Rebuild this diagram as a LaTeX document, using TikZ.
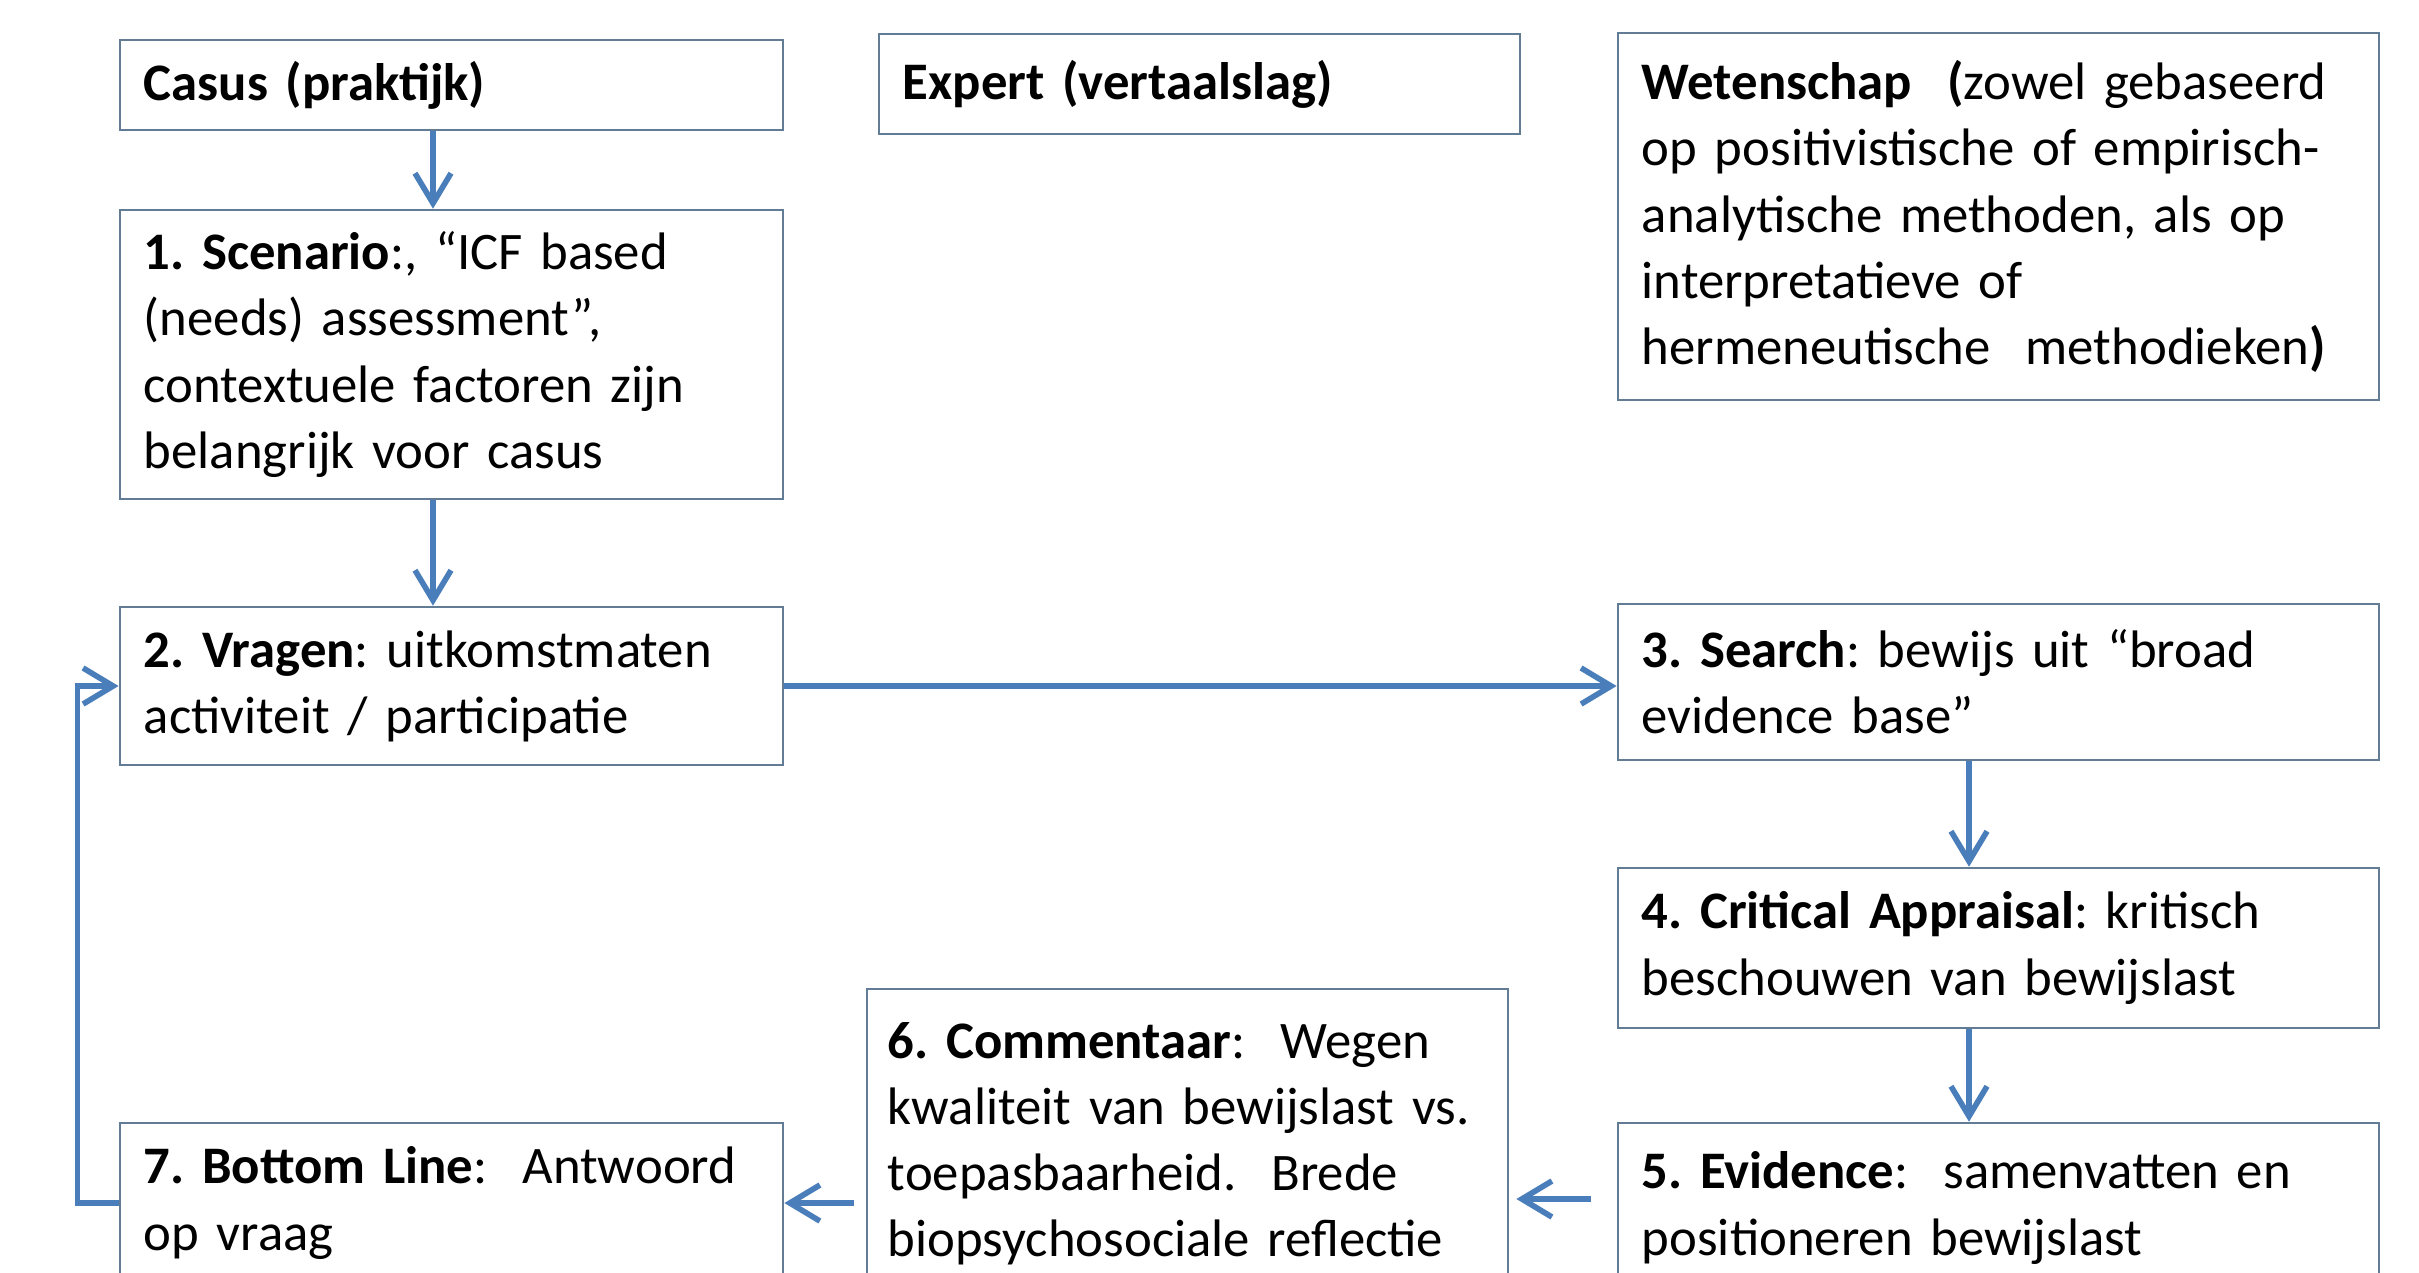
\documentclass[tikz,border=0pt]{standalone}
\usepackage{fontspec}
\setmainfont{Carlito}
\frenchspacing
\usetikzlibrary{arrows.meta,calc}
\definecolor{boxline}{RGB}{98,124,150}
\definecolor{arrowblue}{RGB}{74,126,187}
\begin{document}
\begin{tikzpicture}[x=0.01cm, y=-0.01cm,
  box/.style={draw=boxline, line width=0.7pt, fill=white, rectangle, inner xsep=0.24cm, inner ysep=0pt, align=left, font=\fontsize{15}{18.8}\selectfont},
  conn/.style={draw=arrowblue, line width=1.6pt, -{Straight Barb[length=0.3cm,width=0.36cm]}}]
\useasboundingbox (0,0) rectangle (2419,1272);
\clip (0,0) rectangle (2419,1272);
\fill[white] (0,0) rectangle (2419,1272);

\node[box, text width=6.15cm, minimum height=0.9cm] (casus) at (451.5,85) {\textbf{Casus (praktijk)}};
\node[box, text width=6.15cm, minimum height=2.89cm] (scen) at (451.5,354.5) {\textbf{1. Scenario}:, “ICF based\\(needs) assessment”,\\contextuele factoren zijn\\belangrijk voor casus};
\node[box, text width=6.15cm, minimum height=1.58cm] (vrag) at (451.5,686) {\textbf{2. Vragen}: uitkomstmaten\\activiteit / participatie};
\node[box, text width=5.93cm, minimum height=1.0cm] (expert) at (1199.5,84) {\textbf{Expert (vertaalslag)}};
\node[box, text width=7.13cm, minimum height=3.67cm] (wet) at (1998.5,216.5) {\textbf{Wetenschap}~ \textbf{(}zowel gebaseerd\\op positivistische of empirisch-\\analytische methoden, als op\\interpretatieve of\\hermeneutische~ methodieken\textbf{)}};
\node[box, text width=7.13cm, minimum height=1.56cm] (search) at (1998.5,682) {\textbf{3. Search}: bewijs uit “broad\\evidence base”};
\node[box, text width=7.13cm, minimum height=1.60cm] (crit) at (1998.5,948) {\textbf{4. Critical Appraisal}: kritisch\\beschouwen van bewijslast};
\node[box, text width=7.13cm, minimum height=1.70cm] (evid) at (1998.5,1208) {\textbf{5. Evidence}:~ samenvatten en\\positioneren bewijslast};
\node[box, inner xsep=0.21cm, text width=5.99cm, minimum height=3.10cm] (comm) at (1187.5,1144) {\textbf{6. Commentaar}:~ Wegen\\kwaliteit van bewijslast vs.\\toepasbaarheid.~ Brede\\biopsychosociale reflectie};
\node[box, text width=6.15cm, minimum height=1.60cm] (bott) at (451.5,1203) {\textbf{7. Bottom Line}:~ Antwoord\\op vraag};

\draw[conn] ([xshift=-0.185cm]casus.south) -- ([xshift=-0.185cm]scen.north);
\draw[conn] ([xshift=-0.185cm]scen.south) -- ([xshift=-0.185cm]vrag.north);
\draw[conn] (vrag.east) -- (vrag.east -| search.west);
\draw[conn] ([xshift=-0.295cm]search.south) -- ([xshift=-0.295cm]crit.north);
\draw[conn] ([xshift=-0.295cm]crit.south) -- ([xshift=-0.295cm]evid.north);
\draw[conn, shorten <=0.26cm, shorten >=0.07cm] ($(evid.west)+(0,-9)$) -- ($(evid.west -| comm.east)+(0,-9)$);
\draw[conn, shorten <=0.12cm] (bott.east -| comm.west) -- (bott.east);
\draw[conn] (bott.west) -- ++(-41,0) |- (vrag.west);
\end{tikzpicture}
\end{document}
